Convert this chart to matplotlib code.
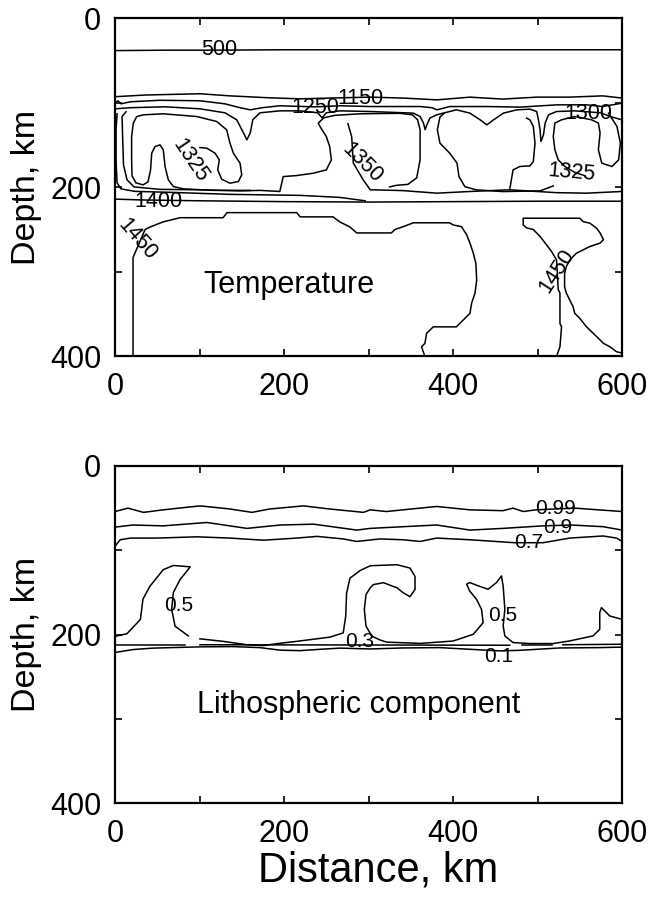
import matplotlib.pyplot as plt
from matplotlib.ticker import MultipleLocator

plt.rcParams['font.family'] = ['Liberation Sans', 'DejaVu Sans']

# ---- temperature field: isotherm traces, distance (km) / depth (km) ----
t500_x = [0, 60, 120, 200, 300, 400, 500, 600]
t500_d = [38.5, 38, 38, 37.5, 37.5, 37.5, 37.5, 37.5]

t1150_x = [0, 35.5, 100.5, 136, 183, 219, 266, 302, 341, 381, 420, 459, 499, 538, 577, 600]
t1150_d = [93, 91, 89.5, 92, 94.3, 95.5, 94.3, 93.5, 94.6, 96.7, 93.5, 95.8, 93.5, 93.5, 92, 94.6]

t1250_x = [0, 3.5, 7, 18, 53, 100.5, 130, 148, 160, 174, 195, 237, 266, 302, 361, 375, 381,
           396, 440, 479, 523, 558, 577, 600]
t1250_d = [100.2, 97.8, 101.4, 99, 97.2, 97.8, 101.4, 106, 108.5, 106, 103.7, 105, 103.7, 104.6,
           104.6, 106, 108.5, 104.6, 104.6, 105.3, 102.6, 102.6, 104.6, 100.6]

t1300_x = [0, 18, 59, 100.5, 130, 144, 152, 156, 160, 163, 171.5, 195, 219, 240, 245, 250, 266,
           302, 353, 361, 365, 367, 369, 372.6, 380.6, 388.5, 404, 420, 432, 440, 448, 459.6,
           475.5, 491, 499, 501, 503, 504, 507, 509, 513, 522.5, 544, 574, 588, 600]
t1300_d = [107.3, 106, 104.9, 107.3, 112, 120.3, 135.7, 144, 135.7, 120.3, 112, 109.7, 109.7,
           112, 118, 112, 109.7, 110.5, 112.4, 116.4, 124.2, 132, 126.2, 118.3, 114.4, 112.4,
           108.5, 112.4, 120.3, 126.2, 120.3, 112.4, 108.5, 107.7, 110.5, 120.3, 132, 146, 138,
           124.2, 114.4, 110.5, 109.7, 112, 117, 120.3]

# outer cell boundary on the left, running along the cell bottoms
t1350a_x = [2.4, 1.2, 1.2, 2.4, 7, 23.7, 65, 136, 219, 266, 296]
t1350a_d = [113.2, 132, 167.6, 194.8, 201.9, 204.9, 206, 208.4, 209.6, 212, 216]

# left cell loop with the S-shaped right flank
t1325a_x = [13, 8.3, 8.9, 10, 14.2, 22.5, 53, 100.5, 148, 171.5, 195, 199, 214.6, 234.6, 250,
            256, 254, 250, 242.5, 240.5, 247, 260, 290, 337, 352, 358, 361, 361, 357, 346.6,
            332.4, 325]
t1325a_d = [110.8, 116.4, 138, 173.5, 191.3, 199.6, 202.5, 203, 204.3, 203.7, 205, 187.4, 186.2,
            183.4, 179.5, 167.6, 151.9, 140, 128.2, 124.2, 118, 115, 113.2, 112.6, 114.4, 120.3,
            132, 167.6, 188.9, 196.6, 197.8, 199.6]

# inner loop of the left cell: hook, flank, rising finger
t1325b_x = [100.5, 108.5, 118.3, 123.4, 121.5, 126.2, 136, 145.9, 149.9, 147.9, 140, 136, 132.1,
            120.3, 96.7, 57.1, 33.5, 25.7, 21.6, 19.6, 19.6, 20.1, 24.8, 33.1, 39, 42, 43.4,
            47.3, 53.2, 57.1, 59.2, 63.1, 69, 80.8, 116, 160]
t1325b_d = [153.1, 153.8, 159.7, 167.6, 179.5, 190.5, 195.2, 193.3, 185.4, 171.5, 159.7, 147.9,
            132.1, 122.3, 116.4, 113.2, 114.4, 116.4, 124.2, 140.1, 167.6, 186.6, 194.8, 197.2,
            193.7, 179.5, 159.7, 151.9, 149.9, 155.8, 175.6, 191.3, 199.2, 201.9, 203.7, 203.7]

t1325c_x = [390, 384.5, 381.4, 384.5, 396, 404.7, 407, 414, 427.5, 459, 503, 518.6]
t1325c_d = [112, 117, 132, 147.9, 159.7, 171.5, 187.4, 199.3, 203.1, 205.1, 204.3, 198.4]

t1325d_x = [556, 544, 532.4, 524.5, 520.5, 518.6, 520.5, 528.4, 544, 564, 572, 574, 572, 576,
            588, 596, 598, 594, 584]
t1325d_d = [186.4, 182.4, 175.5, 167.6, 155.8, 140, 124.2, 120.3, 116.4, 120.3, 124.2, 136,
            155.8, 171.5, 175.5, 167.6, 147.9, 128.2, 112.4]

# flank beside the drip near 500 km
t1325e_x = [467, 469, 471, 479, 491, 495, 497, 495, 491, 487]
t1325e_d = [203, 191.3, 179.5, 175.5, 174.7, 169.6, 147.9, 128.2, 120.3, 118.3]

t1350b_x = [275.6, 280, 282, 293.7, 302, 325, 341, 381, 420, 467, 499, 523, 558, 600]
t1350b_d = [124.9, 140, 171.5, 191.3, 203, 203.5, 204, 207, 205, 203, 205, 206.4, 207, 205]

t1400_x = [0, 30, 100, 200, 300, 400, 500, 600]
t1400_d = [214, 215, 216, 217, 217.5, 217, 216.5, 216.5]

t1450a_x = [21.3, 21.3, 35.5, 41.4, 56.8, 76.9, 127.8, 132.5, 215, 219, 258, 266, 278, 286,
            301.7, 327, 331, 341, 353, 396, 400, 410, 416, 420, 424, 427, 428, 426, 422, 420,
            414, 404, 376.6, 368.7, 366.7, 362.7, 366.7]
t1450a_d = [400, 283, 250, 247, 241, 236, 236, 230, 230, 235, 235, 241, 247, 254, 254, 254, 250,
            246.6, 242, 242, 244.5, 246.6, 256, 266, 278, 290, 309.6, 325, 337, 349, 355, 365,
            365, 372.6, 384.5, 388.6, 400]

t1450b_x = [522.5, 526.5, 528.4, 526.5, 526.5, 524.5, 522.5, 516.6, 510.6, 502.8, 495, 487,
            483, 483, 550, 554, 562, 570, 574, 578, 574, 562, 554, 546, 538, 534, 532, 532,
            534, 538, 542, 544, 550, 558, 570, 578, 585.6, 593.5, 600]
t1450b_d = [400, 388.5, 365, 361, 325, 321, 286, 276, 268, 258, 250, 248, 244.5, 236.6, 236.6,
            240.6, 242.5, 248.5, 254, 262, 266, 270, 274, 278, 286, 294, 302, 317.5, 325, 333,
            341, 349, 355, 365, 376.6, 384.5, 388.5, 394.4, 396]

temp_lines = [(t500_x, t500_d), (t1150_x, t1150_d), (t1250_x, t1250_d), (t1300_x, t1300_d),
              (t1350a_x, t1350a_d), (t1325a_x, t1325a_d), (t1325b_x, t1325b_d),
              (t1325c_x, t1325c_d), (t1325d_x, t1325d_d), (t1325e_x, t1325e_d),
              (t1350b_x, t1350b_d), (t1400_x, t1400_d), (t1450a_x, t1450a_d),
              (t1450b_x, t1450b_d)]

# isotherm labels: text, distance, depth, angle
temp_labels = [('500', 123, 37.5, 0), ('1150', 290, 95, 0), ('1250', 237, 106, 0),
               ('1300', 560, 113, 0), ('1325', 89, 169, -56), ('1325', 540, 183, -5),
               ('1350', 292, 171, -45), ('1400', 51, 217, 0), ('1450', 26, 262, -49),
               ('1450', 523, 299, 57)]

# ---- lithospheric component: concentration contours ----
c099_x = [0, 15.4, 33.5, 57, 100.5, 136, 162, 183, 223, 254, 294, 302, 321, 380.6, 420, 459,
          471, 483, 498, 544, 600]
c099_d = [54, 50, 55, 52, 47.3, 51, 55, 51, 47.3, 51, 55, 52, 54, 48, 52, 53, 50, 54, 52, 50, 54]

c09_x = [0, 21, 57, 108.6, 156, 195.6, 235, 286, 302, 341, 380.6, 420, 459, 506.5, 540, 577.6, 600]
c09_d = [72.5, 70, 71, 67, 74, 70, 69, 76, 74, 72, 70, 76, 74, 71, 70, 72, 76]

c07_x = [0, 6, 18, 49, 97, 136, 175.5, 215, 239, 270, 286, 313.5, 341, 361, 380.6, 420, 473,
         506.5, 538, 577.6, 593.5, 600]
c07_d = [95.4, 87.5, 85.5, 85.5, 84, 85.5, 88, 85.5, 83.5, 86.5, 89.5, 86.5, 87.5, 89.5, 85.5,
         87.5, 91, 91, 85.5, 83, 85.5, 89.5]

c05a_x = [0, 14, 30, 33, 41, 57, 69, 89, 77, 69, 67, 71, 86.7]
c05a_d = [202, 199, 182, 158, 143, 123, 118, 119.6, 134.6, 150, 170, 190, 201.5]

c05b_x = [100.5, 128, 156, 175.5, 197, 215, 254, 270, 273, 274, 278, 290, 302, 333.5, 349, 355,
          355, 349, 341, 333.5, 317.5, 305.6, 302, 297, 295, 297, 304, 313.5, 321.4, 361, 400,
          424, 435.6, 433.7, 427.8, 419.8, 416, 419.8, 427.8, 441.5, 451.4, 457.3, 459.3, 461.3,
          459.3, 461.3, 471, 490.8, 518.4, 538, 565.7, 573.6, 573.6, 575.6, 585.5, 600]
c05b_d = [205, 208, 212, 213, 210, 208, 203, 198, 178, 151, 133, 124, 118.3, 117.1, 121, 131,
          146.4, 155, 150.3, 144.4, 138.4, 140.7, 144.5, 152.4, 170.3, 190, 201.9, 206.3, 208.9,
          210.4, 207.6, 199.6, 185.8, 170, 158.2, 148.4, 140.2, 138.2, 141.4, 146.2, 138.2,
          130.4, 142.2, 169.9, 189.7, 201.5, 209.4, 210.6, 210.6, 207.5, 201.5, 193.6, 173.9,
          168, 177.9, 181.9]

c03a_x = [0, 83]
c03a_d = [212, 212]
c03b_x = [100.5, 300, 467]
c03b_d = [212, 212.3, 212.6]
c03c_x = [481.5, 517]
c03c_d = [212, 212]
c03d_x = [530, 600]
c03d_d = [212, 211.4]

c01_x = [0, 21.3, 45, 100.5, 139.5, 171.5, 195, 219, 242.5, 266, 302, 341, 384.5, 420, 455.5,
         479, 526.5, 574, 600]
c01_d = [221.2, 217.7, 216, 214.5, 214.2, 215.4, 218.4, 219, 217.4, 216, 217, 215.8, 215.4,
         217.4, 219.3, 218.6, 215.8, 215.4, 214.8]

litho_lines = [(c099_x, c099_d), (c09_x, c09_d), (c07_x, c07_d), (c05a_x, c05a_d),
               (c05b_x, c05b_d), (c03a_x, c03a_d), (c03b_x, c03b_d), (c03c_x, c03c_d),
               (c03d_x, c03d_d), (c01_x, c01_d)]

litho_labels = [('0.99', 521, 51, 0), ('0.9', 524, 73, 0), ('0.7', 490, 90.7, 0),
                ('0.5', 75, 165.6, 0), ('0.5', 459, 177.5, 0), ('0.3', 290, 207.6, 0),
                ('0.1', 453.6, 225.6, 0)]


def style_axes(ax):
    ax.set_xlim(0, 600)
    ax.set_ylim(400, 0)
    ax.xaxis.set_major_locator(MultipleLocator(200))
    ax.xaxis.set_minor_locator(MultipleLocator(100))
    ax.yaxis.set_major_locator(MultipleLocator(200))
    ax.yaxis.set_minor_locator(MultipleLocator(100))
    ax.tick_params(which='both', direction='in', top=True, right=True,
                   length=5, width=1.2, labelsize=22)
    ax.tick_params(axis='x', pad=11)
    ax.tick_params(axis='y', pad=10)
    for s in ax.spines.values():
        s.set_linewidth(1.6)
    ax.set_ylabel('Depth, km', fontsize=24.5)
    ax.yaxis.set_label_coords(-0.145, 0.5)


fig = plt.figure(figsize=(6.5, 8.97), dpi=100)
ax1 = fig.add_axes([0.177, 0.6026, 0.780, 0.3773])
ax2 = fig.add_axes([0.177, 0.1045, 0.780, 0.376])

for x, d in temp_lines:
    ax1.plot(x, d, color='black', lw=1.1)
for txt, x, d, ang in temp_labels:
    ax1.text(x, d, txt, fontsize=15.5, ha='center', va='center', rotation=ang,
             rotation_mode='anchor')
ax1.text(104, 324.6, 'Temperature', fontsize=22, ha='left', va='baseline')
style_axes(ax1)

for x, d in litho_lines:
    ax2.plot(x, d, color='black', lw=1.1)
for txt, x, d, ang in litho_labels:
    ax2.text(x, d, txt, fontsize=15, ha='center', va='center', rotation=ang)
ax2.text(96.6, 293.4, 'Lithospheric component', fontsize=22, ha='left', va='baseline')
style_axes(ax2)
ax2.set_xlabel('Distance, km', fontsize=30)
ax2.xaxis.set_label_coords(0.518, -0.139)

fig.savefig('out.png', dpi=100)
